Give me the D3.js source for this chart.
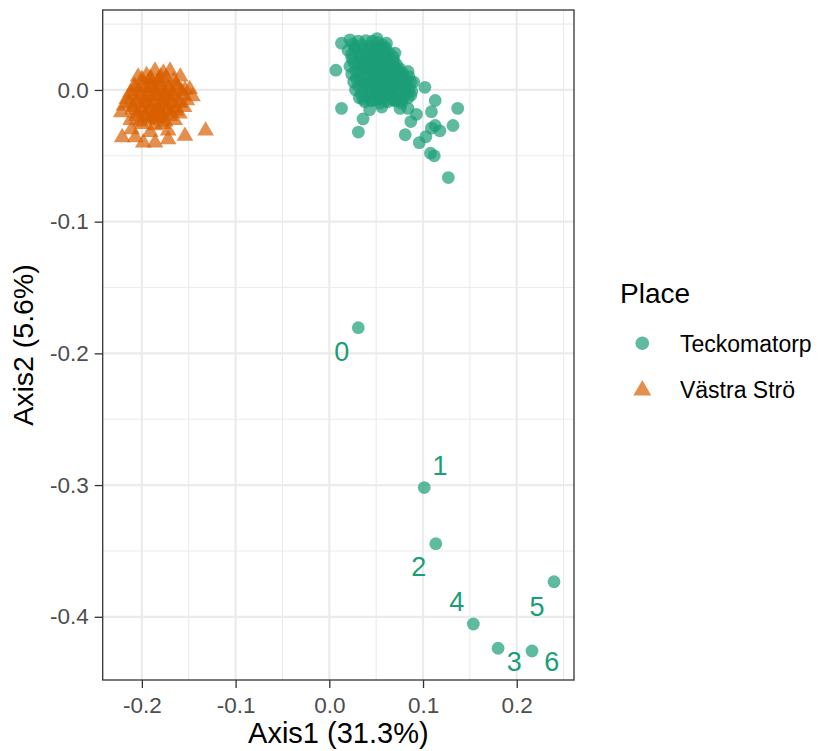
<!DOCTYPE html>
<html>
<head>
<meta charset="utf-8">
<script src="https://cdn.jsdelivr.net/npm/d3@7"></script>
<style>
  body { margin: 0; background: #fff; }
  svg { display: block; }
  text { font-family: "Liberation Sans", Arial, Helvetica, sans-serif; }
</style>
</head>
<body>
<svg id="chart" width="820" height="751"></svg>
<script>
// PCoA ordination: sample scores on the first two axes, by place

const places = ["Teckomatorp", "Västra Strö"];
const placeColors = ["#1B9E77", "#D95F02"];

// Teckomatorp samples (main cluster)
const teckomatorpAxis1 = [
  0.025, 0.031, 0.039, 0.046, 0.052, 0.057,
  0.020, 0.028, 0.036, 0.043, 0.051, 0.059, 0.064,
  0.024, 0.032, 0.040, 0.047, 0.055, 0.063, 0.069,
  0.022, 0.030, 0.038, 0.045, 0.053, 0.061, 0.069, 0.075,
  0.024, 0.032, 0.040, 0.047, 0.055, 0.063, 0.071, 0.078,
  0.026, 0.034, 0.041, 0.049, 0.057, 0.065, 0.073, 0.081,
  0.028, 0.036, 0.044, 0.051, 0.059, 0.067, 0.075, 0.083,
  0.032, 0.040, 0.048, 0.055, 0.063, 0.071, 0.079, 0.087,
  0.038, 0.046, 0.054, 0.062, 0.070, 0.077,
  0.027, 0.035, 0.042, 0.050, 0.055, 0.060,
  0.024, 0.032, 0.040, 0.047, 0.055, 0.062, 0.068,
  0.026, 0.034, 0.044, 0.051, 0.059, 0.066, 0.072,
  0.028, 0.036, 0.044, 0.050, 0.058, 0.066, 0.073, 0.078,
  0.029, 0.037, 0.044, 0.052, 0.060, 0.068, 0.076, 0.082,
  0.031, 0.039, 0.047, 0.055, 0.062, 0.070, 0.078, 0.085,
  0.034, 0.042, 0.050, 0.057, 0.065, 0.073, 0.081, 0.088,
  0.036, 0.044, 0.052, 0.060, 0.068, 0.076, 0.084,
  0.035, 0.043, 0.050, 0.058, 0.045, 0.052, 0.060, 0.066, 0.039, 0.048, 0.056, 0.042, 0.070, 0.064,
  0.085, 0.087, 0.084,
  0.013, 0.022, 0.007, 0.013, 0.036, 0.031, 0.051, 0.061, 0.070, 0.090,
  0.102, 0.113, 0.109, 0.137, 0.093, 0.087, 0.081, 0.132, 0.113, 0.118,
  0.109, 0.103, 0.096, 0.108, 0.112, 0.127, 0.0755, 0.084, 0.070, 0.056, 0.043
];
const teckomatorpAxis2 = [
  0.035, 0.037, 0.0375, 0.037, 0.036, 0.034,
  0.030, 0.031, 0.030, 0.031, 0.029, 0.030, 0.028,
  0.024, 0.025, 0.023, 0.025, 0.024, 0.023, 0.022,
  0.018, 0.019, 0.017, 0.019, 0.018, 0.017, 0.018, 0.016,
  0.012, 0.013, 0.011, 0.012, 0.013, 0.011, 0.012, 0.010,
  0.006, 0.007, 0.005, 0.006, 0.007, 0.005, 0.006, 0.004,
  0.000, 0.001, -0.001, 0.000, 0.001, -0.001, 0.000, -0.002,
  -0.006, -0.005, -0.007, -0.006, -0.005, -0.007, -0.006, -0.004,
  -0.009, -0.008, -0.010, -0.009, -0.008, -0.010,
  0.033, 0.034, 0.033, 0.032, 0.033, 0.032,
  0.027, 0.028, 0.027, 0.026, 0.027, 0.026, 0.025,
  0.021, 0.022, 0.020, 0.021, 0.021, 0.020, 0.019,
  0.015, 0.016, 0.015, 0.014, 0.015, 0.014, 0.015, 0.013,
  0.009, 0.010, 0.008, 0.009, 0.010, 0.008, 0.009, 0.007,
  0.003, 0.004, 0.002, 0.003, 0.004, 0.002, 0.003, 0.001,
  -0.003, -0.002, -0.004, -0.003, -0.002, -0.004, -0.003, -0.001,
  -0.007, -0.008, -0.007, -0.008, -0.007, -0.008, -0.006,
  0.021, 0.015, 0.009, 0.003, 0.027, 0.021, 0.014, 0.008, 0.004, 0.030, 0.010, 0.020, 0.003, -0.003,
  0.010, 0.006, 0.014,
  0.0355, 0.038, 0.015, -0.014, -0.022, -0.032, 0.039, 0.0355, 0.028, 0.006,
  0.002, -0.008, -0.0165, -0.014, -0.0185, -0.024, -0.034, -0.027, -0.027, -0.031,
  -0.029, -0.0355, -0.040, -0.048, -0.050, -0.0665, -0.014, -0.014, -0.008, -0.013, -0.015
];

// Teckomatorp samples set apart from the cluster, with their sample labels
const outlierIds = ["0", "1", "2", "3", "4", "5", "6"];
const outlierAxis1 = [0.0309, 0.1013, 0.1136, 0.1801, 0.1537, 0.2398, 0.2163];
const outlierAxis2 = [-0.1805, -0.3019, -0.3445, -0.4239, -0.4055, -0.3734, -0.4260];

// Västra Strö samples
const vastraStroAxis1 = [
  -0.204, -0.195, -0.186, -0.177, -0.170, -0.159,
  -0.208, -0.199, -0.190, -0.181, -0.172, -0.163, -0.149,
  -0.212, -0.203, -0.194, -0.185, -0.176, -0.167, -0.158, -0.146,
  -0.216, -0.206, -0.197, -0.188, -0.179, -0.170, -0.161, -0.152,
  -0.219, -0.209, -0.200, -0.191, -0.182, -0.173, -0.164, -0.155,
  -0.222, -0.205, -0.196, -0.187, -0.178, -0.169, -0.160,
  -0.212, -0.202, -0.193, -0.184, -0.175, -0.165,
  -0.211, -0.191, -0.172, -0.132,
  -0.221, -0.207, -0.1985, -0.186, -0.172, -0.154,
  -0.200, -0.191, -0.182, -0.174, -0.166,
  -0.207, -0.198, -0.189, -0.180, -0.171, -0.162, -0.154,
  -0.210, -0.201, -0.192, -0.183, -0.174, -0.165, -0.156,
  -0.213, -0.204, -0.195, -0.186, -0.177, -0.168, -0.159,
  -0.210, -0.200, -0.191, -0.182, -0.173, -0.164,
  -0.206, -0.197, -0.188, -0.179, -0.170,
  -0.200, -0.186, -0.178,
  -0.190, -0.182, -0.186, -0.178, -0.183, -0.195, -0.174, -0.188, -0.180, -0.192
];
const vastraStroAxis2 = [
  0.010, 0.011, 0.0145, 0.013, 0.0145, 0.010,
  0.003, 0.005, 0.004, 0.006, 0.003, 0.004, 0.0005,
  -0.002, -0.001, -0.003, -0.001, -0.002, -0.003, -0.001, -0.005,
  -0.007, -0.008, -0.007, -0.009, -0.008, -0.007, -0.009, -0.008,
  -0.012, -0.013, -0.014, -0.013, -0.014, -0.012, -0.014, -0.013,
  -0.017, -0.018, -0.019, -0.018, -0.019, -0.017, -0.018,
  -0.023, -0.024, -0.023, -0.022, -0.024, -0.023,
  -0.030, -0.032, -0.031, -0.031,
  -0.036, -0.036, -0.040, -0.040, -0.0375, -0.035,
  0.008, 0.009, 0.008, 0.009, 0.007,
  0.002, 0.001, 0.002, 0.003, 0.001, 0.002, 0.000,
  -0.004, -0.005, -0.004, -0.005, -0.004, -0.005, -0.004,
  -0.010, -0.009, -0.010, -0.011, -0.010, -0.009, -0.010,
  -0.015, -0.016, -0.015, -0.016, -0.015, -0.016,
  -0.020, -0.021, -0.020, -0.021, -0.020,
  -0.026, -0.027, -0.026,
  0.008, 0.001, -0.005, -0.011, -0.016, -0.010, -0.005, -0.021, 0.010, 0.002
];

// Axis ticks and titles
const xTicks = [-0.2, -0.1, 0.0, 0.1, 0.2];
const yTicks = [-0.4, -0.3, -0.2, -0.1, 0.0];
const xMinorTicks = [-0.15, -0.05, 0.05, 0.15, 0.25];
const yMinorTicks = [-0.35, -0.25, -0.15, -0.05, 0.05];
const xLimits = [-0.2418, 0.2611];
const yLimits = [-0.448, 0.0607];
const xTitle = "Axis1 (31.3%)";
const yTitle = "Axis2 (5.6%)";
const legendTitle = "Place";

// ---- layout ----
const panel = { left: 102.7, right: 574, top: 10, bottom: 680 };
// label placement (pixels from the point) for the separated samples
const labelOffsets = [[-16.6, 24], [15.7, -22.7], [-17, 23], [16.3, 13.4], [-16.6, -22.3], [-17, 25], [19.7, 10]];

const svg = d3.select("#chart");
const x = d3.scaleLinear().domain(xLimits).range([panel.left, panel.right]);
const y = d3.scaleLinear().domain(yLimits).range([panel.bottom, panel.top]);
const fmt = d => d.toFixed(1);
const pointAlpha = 0.7;

// panel background + grid
svg.append("rect").attr("x", panel.left).attr("y", panel.top)
  .attr("width", panel.right - panel.left).attr("height", panel.bottom - panel.top)
  .attr("fill", "#fff");

const grid = svg.append("g");
grid.selectAll(".vminor").data(xMinorTicks.filter(v => x(v) < panel.right)).join("line")
  .attr("x1", d => x(d)).attr("x2", d => x(d)).attr("y1", panel.top).attr("y2", panel.bottom)
  .attr("stroke", "#EBEBEB").attr("stroke-width", 1.1);
grid.selectAll(".hminor").data(yMinorTicks.filter(v => y(v) > panel.top)).join("line")
  .attr("y1", d => y(d)).attr("y2", d => y(d)).attr("x1", panel.left).attr("x2", panel.right)
  .attr("stroke", "#EBEBEB").attr("stroke-width", 1.1);
grid.selectAll(".vmajor").data(xTicks).join("line")
  .attr("x1", d => x(d)).attr("x2", d => x(d)).attr("y1", panel.top).attr("y2", panel.bottom)
  .attr("stroke", "#EBEBEB").attr("stroke-width", 2.2);
grid.selectAll(".hmajor").data(yTicks).join("line")
  .attr("y1", d => y(d)).attr("y2", d => y(d)).attr("x1", panel.left).attr("x2", panel.right)
  .attr("stroke", "#EBEBEB").attr("stroke-width", 2.2);

// points
const triangle = d3.symbol().type(d3.symbolTriangle).size(121);
const teck = teckomatorpAxis1.map((v, i) => ({ a1: v, a2: teckomatorpAxis2[i] }));
const outliers = outlierAxis1.map((v, i) => ({ id: outlierIds[i], a1: v, a2: outlierAxis2[i], off: labelOffsets[i] }));
const vastra = vastraStroAxis1.map((v, i) => ({ a1: v, a2: vastraStroAxis2[i] }));

const pts = svg.append("g");
pts.selectAll("circle.t").data(teck.concat(outliers)).join("circle")
  .attr("cx", d => x(d.a1)).attr("cy", d => y(d.a2)).attr("r", 6.4)
  .attr("fill", placeColors[0]).attr("fill-opacity", pointAlpha);
pts.selectAll("path.v").data(vastra).join("path")
  .attr("d", triangle)
  .attr("transform", d => `translate(${x(d.a1)},${y(d.a2)})`)
  .attr("fill", placeColors[1]).attr("fill-opacity", pointAlpha);

// sample labels
svg.append("g").selectAll("text").data(outliers).join("text")
  .attr("x", d => x(d.a1) + d.off[0]).attr("y", d => y(d.a2) + d.off[1])
  .attr("dy", "0.36em").attr("text-anchor", "middle")
  .attr("font-size", 27).attr("fill", placeColors[0])
  .text(d => d.id);

// panel border
svg.append("rect").attr("x", panel.left).attr("y", panel.top)
  .attr("width", panel.right - panel.left).attr("height", panel.bottom - panel.top)
  .attr("fill", "none").attr("stroke", "#333333").attr("stroke-width", 1.3);

// axes
function styleAxis(g) {
  g.select(".domain").remove();
  g.selectAll(".tick line").attr("stroke", "#333333").attr("stroke-width", 1.3);
  g.selectAll(".tick text").attr("fill", "#4D4D4D").attr("font-size", 22.5)
    .attr("font-family", "'Liberation Sans', Arial, Helvetica, sans-serif");
}
svg.append("g").attr("transform", `translate(0,${panel.bottom})`)
  .call(d3.axisBottom(x).tickValues(xTicks).tickFormat(fmt).tickSize(8).tickPadding(9))
  .call(styleAxis);
svg.append("g").attr("transform", `translate(${panel.left},0)`)
  .call(d3.axisLeft(y).tickValues(yTicks).tickFormat(fmt).tickSize(8).tickPadding(6))
  .call(styleAxis);

// axis titles
svg.append("text").attr("x", (panel.left + panel.right) / 2).attr("y", 743)
  .attr("text-anchor", "middle").attr("font-size", 29).attr("fill", "#000").text(xTitle);
svg.append("text").attr("transform", `translate(33,${(panel.top + panel.bottom) / 2}) rotate(-90)`)
  .attr("text-anchor", "middle").attr("font-size", 28.5).attr("fill", "#000").text(yTitle);

// legend
const legend = svg.append("g");
legend.append("text").attr("x", 620).attr("y", 303).attr("font-size", 28).attr("fill", "#000").text(legendTitle);
const keys = legend.selectAll("g.key").data(places).join("g")
  .attr("transform", (d, i) => `translate(642.3,${343.3 + i * 46})`);
keys.filter((d, i) => i === 0).append("circle").attr("r", 6.8)
  .attr("fill", placeColors[0]).attr("fill-opacity", pointAlpha);
keys.filter((d, i) => i === 1).append("path")
  .attr("d", d3.symbol().type(d3.symbolTriangle).size(140))
  .attr("transform", "translate(0,1)")
  .attr("fill", placeColors[1]).attr("fill-opacity", pointAlpha);
keys.append("text").attr("x", 37.7).attr("y", 8.4).attr("font-size", 23).attr("fill", "#000")
  .text(d => d);
</script>
</body>
</html>
